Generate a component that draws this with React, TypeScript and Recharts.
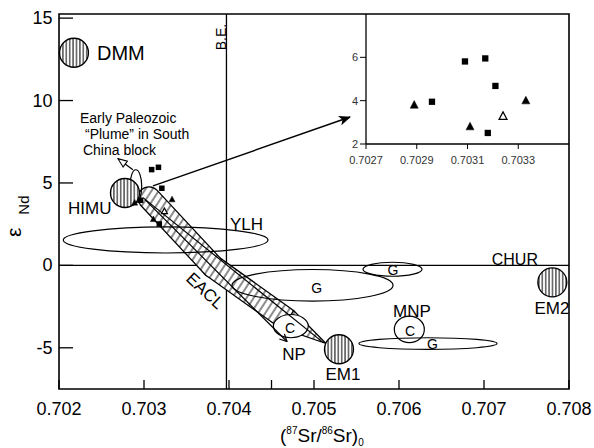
import React from 'react';
import { ScatterChart, Scatter, XAxis, YAxis, ReferenceLine, ReferenceArea, ReferenceDot } from 'recharts';

const FONT = '"Liberation Sans", Arial, Helvetica, sans-serif';

// ---- main axes ----
const srTicks = [0.702, 0.703, 0.704, 0.7045, 0.705, 0.706, 0.707, 0.708];
const srTickLabels = ['0.702', '0.703', '0.704', '', '0.705', '0.706', '0.707', '0.708'];
const ndTicks = [-5, 0, 5, 10, 15];
const srDomain = [0.702, 0.708];
const ndDomain = [-7.5, 15.25];

// ---- inset axes ----
const insetSrTicks = [0.7027, 0.7029, 0.7031, 0.7033];
const insetNdTicks = [2, 4, 6];
const insetSrDomain = [0.7027, 0.7035];
const insetNdDomain = [2, 8];

// ---- samples ----
const squareSr = [0.70296, 0.70309, 0.70317, 0.70321, 0.70318];
const squareNd = [3.95, 5.81, 5.95, 4.68, 2.51];
const triSr = [0.70289, 0.70311, 0.70333];
const triNd = [3.8, 2.8, 4.0];
const openTriSr = [0.70324];
const openTriNd = [3.28];

// ---- mantle end members ----
const endMembers = ['DMM', 'HIMU', 'EM1', 'EM2'];
const emSr = [0.702176, 0.702776, 0.705294, 0.707804];
const emNd = [12.9, 4.39, -5.09, -1.03];

// ---- fields (ellipses) ----
const fieldNames = ['YLH', 'G1', 'G2', 'C1', 'C2', 'G3', 'Plume'];
const fieldSrMin = [0.70205, 0.704035, 0.705576, 0.704522, 0.705945, 0.705529, 0.702835];
const fieldSrMax = [0.70446, 0.70593, 0.706271, 0.704933, 0.706298, 0.707153, 0.702973];
const fieldNdMin = [0.75, -2.17, -0.66, -4.39, -4.69, -5.1, 3.8];
const fieldNdMax = [2.33, -0.25, 0.19, -2.98, -3.08, -4.39, 5.8];

// ---- EACL band (centre line) ----
const bandSr = [0.703059, 0.703812, 0.704659];
const bandNd = [4.09, -0.08, -3.19];
const taperSr = [0.704694, 0.705141];
const taperNd = [-3.28, -4.74];

// ---- reference lines ----
const beSr = 0.70397;
const churNd = 0;

// ---- annotation lines ----
const em1LineSr = [0.702988, 0.705106];
const em1LineNd = [4.11, -4.67];
const npLineSr = [0.703012, 0.704682];
const npLineNd = [3.99, -4.62];
const insetArrowSr = [0.703106, 0.705424];
const insetArrowNd = [4.82, 9.0];
const plumeArrowSr = [0.70287, 0.702694];
const plumeArrowNd = [5.8, 6.47];

const pts = (xs: number[], ys: number[]) => xs.map((x, i) => ({ x, y: ys[i] }));
const seg = (xs: number[], ys: number[], a = 0, b = 1) => [
  { x: xs[a], y: ys[a] },
  { x: xs[b], y: ys[b] },
];

const squares = pts(squareSr, squareNd);
const tris = pts(triSr, triNd);
const openTris = pts(openTriSr, openTriNd);

const squareShape = (s: number) => (p: any) => (
  <rect x={p.cx - s / 2} y={p.cy - s / 2} width={s} height={s} fill="#000" />
);
const triShape = (s: number, open: boolean) => (p: any) => (
  <polygon
    points={`${p.cx},${p.cy - s * 0.55} ${p.cx - s / 2},${p.cy + s * 0.4} ${p.cx + s / 2},${p.cy + s * 0.4}`}
    fill={open ? '#fff' : '#000'}
    stroke="#000"
    strokeWidth={open ? 1.2 : 0.5}
  />
);

const lineShape = (marker?: string, width = 1.3) => (p: any) => (
  <line x1={p.x1} y1={p.y1} x2={p.x2} y2={p.y2} stroke="#000" strokeWidth={width} markerEnd={marker} />
);

const bandStroke = (stroke: string, width: number) => (p: any) => (
  <line x1={p.x1} y1={p.y1} x2={p.x2} y2={p.y2} stroke={stroke} strokeWidth={width} strokeLinecap="round" />
);

const taperShape = (p: any) => {
  const dx = p.x2 - p.x1;
  const dy = p.y2 - p.y1;
  const len = Math.sqrt(dx * dx + dy * dy) || 1;
  const nx = (-dy / len) * 10.5;
  const ny = (dx / len) * 10.5;
  const d = `M${p.x1 + nx},${p.y1 + ny} L${p.x2},${p.y2} L${p.x1 - nx},${p.y1 - ny} Z`;
  return <path d={d} fill="url(#bandHatch)" stroke="#000" strokeWidth={1.2} />;
};

const ellipseShape = (fill: string) => (p: any) => (
  <ellipse
    cx={(p.x1 + p.x2) / 2}
    cy={(p.y1 + p.y2) / 2}
    rx={Math.abs(p.x2 - p.x1) / 2}
    ry={Math.abs(p.y2 - p.y1) / 2}
    fill={fill}
    stroke="#000"
    strokeWidth={1.2}
  />
);

const txt = (
  key: string,
  x: number,
  y: number,
  content: React.ReactNode,
  size: number,
  anchor: 'start' | 'middle' | 'end' = 'middle',
  rotate = 0
) => (
  <ReferenceDot
    key={key}
    x={x}
    y={y}
    r={1}
    ifOverflow="visible"
    shape={(p: any) => (
      <text
        x={p.cx}
        y={p.cy}
        fontSize={size}
        fontFamily={FONT}
        textAnchor={anchor}
        dominantBaseline="central"
        fill="#000"
        transform={rotate ? `rotate(${rotate} ${p.cx} ${p.cy})` : undefined}
      >
        {content}
      </text>
    )}
  />
);

const XTitle = () => (
  <text x={280} y={441.5} fontFamily={FONT} fill="#000" fontSize={19}>
    (<tspan fontSize={10} dy={-8}>87</tspan>
    <tspan fontSize={19} dy={8}>Sr/</tspan>
    <tspan fontSize={10} dy={-8}>86</tspan>
    <tspan fontSize={19} dy={8}>Sr)</tspan>
    <tspan fontSize={10} dy={4}>0</tspan>
  </text>
);

const YTitle = () => (
  <text transform="translate(20.5,237) rotate(-90)" fontFamily={FONT} fill="#000">
    <tspan fontSize={21}>ε</tspan>
    <tspan fontSize={15} dx={13} dy={8.9}>Nd</tspan>
  </text>
);

const XTick = (p: any) => {
  const v = p.payload?.value;
  const label = srTickLabels[srTicks.indexOf(v)] ?? '';
  return (
    <g>
      <line x1={p.x} y1={389} x2={p.x} y2={380} stroke="#000" strokeWidth={1.3} />
      <text x={p.x} y={414.5} textAnchor="middle" fontSize={18} fontFamily={FONT} fill="#000">
        {label}
      </text>
    </g>
  );
};

const YTick = (p: any) => {
  const v = p.payload?.value;
  return (
    <g>
      <line x1={59} y1={p.y} x2={73} y2={p.y} stroke="#000" strokeWidth={1.3} />
      <text x={52.5} y={p.y} textAnchor="end" dominantBaseline="central" fontSize={18} fontFamily={FONT} fill="#000">
        {String(v)}
      </text>
    </g>
  );
};

const Defs = () => (
  <svg width={0} height={0} style={{ position: 'absolute', left: 0, top: 0 }}>
    <defs>
      <pattern id="vhatch" patternUnits="userSpaceOnUse" width={3.4} height={10}>
        <rect x={0} y={0} width={3.4} height={10} fill="#fff" />
        <line x1={1.7} y1={0} x2={1.7} y2={10} stroke="#000" strokeWidth={1} />
      </pattern>
      <pattern id="bandHatch" patternUnits="userSpaceOnUse" width={6} height={10} patternTransform="rotate(33)">
        <rect x={0} y={0} width={6} height={10} fill="#fff" />
        <line x1={3} y1={0} x2={3} y2={10} stroke="#000" strokeWidth={0.9} />
      </pattern>
      <marker id="arrowFill" viewBox="0 0 12 10" refX={11} refY={5} markerWidth={13} markerHeight={10} markerUnits="userSpaceOnUse" orient="auto">
        <path d="M0,0 L12,5 L0,10 L3,5 Z" fill="#000" />
      </marker>
      <marker id="arrowOpen" viewBox="0 0 12 10" refX={11} refY={5} markerWidth={11} markerHeight={9} markerUnits="userSpaceOnUse" orient="auto">
        <path d="M1,1 L11,5 L1,9 Z" fill="#fff" stroke="#000" strokeWidth={1.2} />
      </marker>
      <marker id="arrowV" viewBox="0 0 10 10" refX={9} refY={5} markerWidth={9} markerHeight={9} markerUnits="userSpaceOnUse" orient="auto">
        <path d="M1,1 L9,5 L1,9" fill="none" stroke="#000" strokeWidth={1.4} />
      </marker>
    </defs>
  </svg>
);

export default function App() {
  const insetTick = { fontSize: 11, fill: '#333', fontFamily: FONT };
  return (
    <div style={{ position: 'absolute', left: 0, top: 0, width: 594, height: 448, background: '#fff', fontFamily: FONT }}>
      <Defs />
      <div style={{ position: 'absolute', left: 0, top: 0 }}>
        <ScatterChart width={594} height={448} margin={{ top: 14, right: 25, left: 0, bottom: 0 }}>
          <XAxis
            type="number"
            dataKey="x"
            domain={srDomain}
            ticks={srTicks}
            interval={0}
            allowDataOverflow
            height={59}
            axisLine={false}
            tickLine={false}
            tickSize={0}
            tickMargin={0}
            tick={<XTick />}
            label={<XTitle />}
          />
          <YAxis
            type="number"
            dataKey="y"
            domain={ndDomain}
            ticks={ndTicks}
            interval={0}
            allowDataOverflow
            width={59}
            axisLine={false}
            tickLine={false}
            tickSize={0}
            tickMargin={0}
            tick={<YTick />}
            label={<YTitle />}
          />
          <ReferenceArea
            x1={srDomain[0]}
            x2={srDomain[1]}
            y1={ndDomain[0]}
            y2={ndDomain[1]}
            fill="none"
            fillOpacity={0}
            stroke="#000"
            strokeWidth={1.6}
            ifOverflow="visible"
          />
          <ReferenceLine x={beSr} stroke="#000" strokeWidth={1.3} />
          <ReferenceLine y={churNd} stroke="#000" strokeWidth={1.3} />

          {/* EACL band: outline then hatch */}
          <ReferenceLine segment={seg(bandSr, bandNd, 0, 1)} shape={bandStroke('#000', 23.5)} />
          <ReferenceLine segment={seg(bandSr, bandNd, 1, 2)} shape={bandStroke('#000', 23.5)} />
          <ReferenceLine segment={seg(bandSr, bandNd, 0, 1)} shape={bandStroke('url(#bandHatch)', 21)} />
          <ReferenceLine segment={seg(bandSr, bandNd, 1, 2)} shape={bandStroke('url(#bandHatch)', 21)} />
          <ReferenceLine segment={seg(taperSr, taperNd)} shape={taperShape} />

          {/* fields */}
          {fieldNames.map((n, i) => (
            <ReferenceLine
              key={n}
              segment={[
                { x: fieldSrMin[i], y: fieldNdMin[i] },
                { x: fieldSrMax[i], y: fieldNdMax[i] },
              ]}
              shape={ellipseShape(n.startsWith('C') ? '#fff' : 'none')}
            />
          ))}

          {/* annotation lines */}
          <ReferenceLine segment={seg(em1LineSr, em1LineNd)} shape={lineShape(undefined, 1.2)} />
          <ReferenceLine segment={seg(npLineSr, npLineNd)} shape={lineShape('url(#arrowV)', 1.2)} />
          <ReferenceLine segment={seg(insetArrowSr, insetArrowNd)} shape={lineShape('url(#arrowFill)', 1.4)} />
          <ReferenceLine segment={seg(plumeArrowSr, plumeArrowNd)} shape={lineShape('url(#arrowOpen)', 1.2)} />

          {/* end members */}
          {endMembers.map((n, i) => (
            <ReferenceDot key={n} x={emSr[i]} y={emNd[i]} r={14.5} fill="url(#vhatch)" stroke="#000" strokeWidth={1.3} />
          ))}

          {/* samples */}
          <Scatter data={squares} shape={squareShape(5.5)} isAnimationActive={false} />
          <Scatter data={tris} shape={triShape(6, false)} isAnimationActive={false} />
          <Scatter data={openTris} shape={triShape(6, true)} isAnimationActive={false} />

          {/* labels */}
          {txt('dmm', 0.702447, 12.9, 'DMM', 20, 'start')}
          {txt('himu', 0.702106, 3.48, 'HIMU', 17, 'start')}
          {txt('ep1', 0.702247, 8.94, 'Early Paleozoic', 14, 'start')}
          {txt('ep2', 0.702306, 7.94, '\u201CPlume\u201D in South', 14, 'start')}
          {txt('ep3', 0.702282, 6.97, 'China block', 14, 'start')}
          {txt('ylh', 0.704012, 2.51, 'YLH', 17, 'start')}
          {txt('chur', 0.707091, 0.36, 'CHUR', 16, 'start')}
          {txt('g1', 0.705032, -1.4, 'G', 14)}
          {txt('g2', 0.70593, -0.3, 'G', 14)}
          {txt('c1', 0.704718, -3.77, 'C', 14)}
          {txt('np', 0.704765, -5.38, 'NP', 17)}
          {txt('mnp', 0.706153, -2.81, 'MNP', 17)}
          {txt('c2', 0.706129, -3.98, 'C', 14)}
          {txt('g3', 0.706394, -4.77, 'G', 14)}
          {txt('em1', 0.705341, -6.59, 'EM1', 17)}
          {txt('em2', 0.7078, -2.59, 'EM2', 17)}
          {txt('eacl', 0.703718, -1.55, 'EACL', 17, 'middle', 43)}
          {txt('be', 0.703906, 13.85, 'B.E.', 14, 'middle', -90)}
        </ScatterChart>
      </div>

      {/* inset */}
      <div style={{ position: 'absolute', left: 300, top: 0 }}>
        <ScatterChart width={294} height={200} margin={{ top: 14, right: 25, left: 0, bottom: 0 }}>
          <XAxis
            type="number"
            dataKey="x"
            domain={insetSrDomain}
            ticks={insetSrTicks}
            interval={0}
            allowDataOverflow
            height={56}
            axisLine={{ stroke: '#000', strokeWidth: 1.3 }}
            tickLine={{ stroke: '#000', strokeWidth: 1 }}
            tickSize={5}
            tickMargin={7}
            tick={insetTick}
            tickFormatter={(v: number) => v.toFixed(4)}
          />
          <YAxis
            type="number"
            dataKey="y"
            domain={insetNdDomain}
            ticks={insetNdTicks}
            interval={0}
            allowDataOverflow
            width={66}
            axisLine={{ stroke: '#000', strokeWidth: 1.3 }}
            tickLine={{ stroke: '#000', strokeWidth: 1 }}
            tickSize={6}
            tickMargin={2}
            tick={insetTick}
          />
          <Scatter data={squares} shape={squareShape(6.3)} isAnimationActive={false} />
          <Scatter data={tris} shape={triShape(8, false)} isAnimationActive={false} />
          <Scatter data={openTris} shape={triShape(8, true)} isAnimationActive={false} />
        </ScatterChart>
      </div>
    </div>
  );
}
